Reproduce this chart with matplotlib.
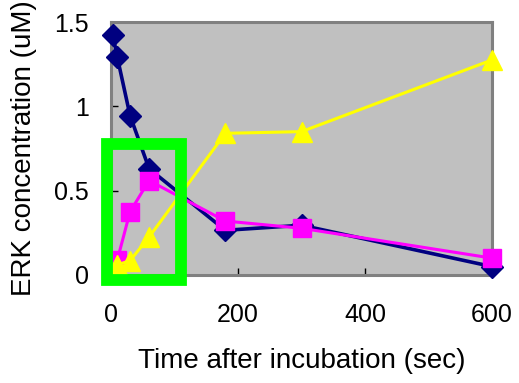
import matplotlib
matplotlib.use("Agg")
import matplotlib.pyplot as plt
from matplotlib.patches import Rectangle

# Time points (sec) and ERK concentrations (uM)
t_total = [3, 10, 30, 60, 180, 300, 600]
erk_total = [1.42, 1.29, 0.945, 0.63, 0.265, 0.295, 0.05]

t_magenta = [10, 30, 60, 180, 300, 600]
erk_magenta = [0.09, 0.375, 0.56, 0.32, 0.277, 0.10]

t_yellow = [10, 30, 60, 180, 300, 600]
erk_yellow = [0.06, 0.085, 0.225, 0.84, 0.85, 1.275]

x_ticks = [0, 200, 400, 600]
y_ticks = [0, 0.5, 1, 1.5]
y_tick_labels = ["0", "0.5", "1", "1.5"]

plt.rcParams["font.family"] = ["Liberation Sans", "DejaVu Sans"]

fig = plt.figure(figsize=(5.19, 3.83), dpi=100)
ax = fig.add_axes([111 / 519, 1 - 275 / 383, 381 / 519, 253 / 383])
ax.set_facecolor("#c0c0c0")

ax.plot(t_total, erk_total, color="#000080", lw=2.6, marker="D", ms=11,
        mec="#000080", mfc="#000080", clip_on=False, zorder=3)
ax.plot(t_magenta, erk_magenta, color="#ff00ff", lw=2.2, marker="s", ms=13.5,
        mec="#ff00ff", mfc="#ff00ff", clip_on=False, zorder=4)
ax.plot(t_yellow, erk_yellow, color="#ffff00", lw=2.2, marker="^", ms=14,
        mec="#ffff00", mfc="#ffff00", clip_on=False, zorder=5)

# Highlight box around the early time points
box = Rectangle((-7, -0.03), 118, 0.807, fill=False, edgecolor="#00ff00",
                lw=8.5, clip_on=False, zorder=6, transform=ax.transData)
ax.add_patch(box)

ax.set_xlim(0, 600)
ax.set_ylim(0, 1.5)
ax.set_xticks(x_ticks)
ax.set_yticks(y_ticks)
ax.set_yticklabels(y_tick_labels)

for side in ["top", "right", "left", "bottom"]:
    ax.spines[side].set_color("#808080")
    ax.spines[side].set_linewidth(2.2)
ax.plot([0, 0], [0, 1], transform=ax.transAxes, color="black", lw=0.9,
        clip_on=False, zorder=2.5)
ax.plot([0, 1], [0, 0], transform=ax.transAxes, color="black", lw=0.9,
        clip_on=False, zorder=2.5)

ax.tick_params(direction="in", length=5, width=1, color="black",
               labelsize=18, pad=16)
ax.tick_params(axis="x", pad=20)

ax.set_xlabel("Time after incubation (sec)", fontsize=20, labelpad=15)
ax.set_ylabel("ERK concentration (uM)", fontsize=20, labelpad=12)

fig.savefig("out.png", dpi=100)
